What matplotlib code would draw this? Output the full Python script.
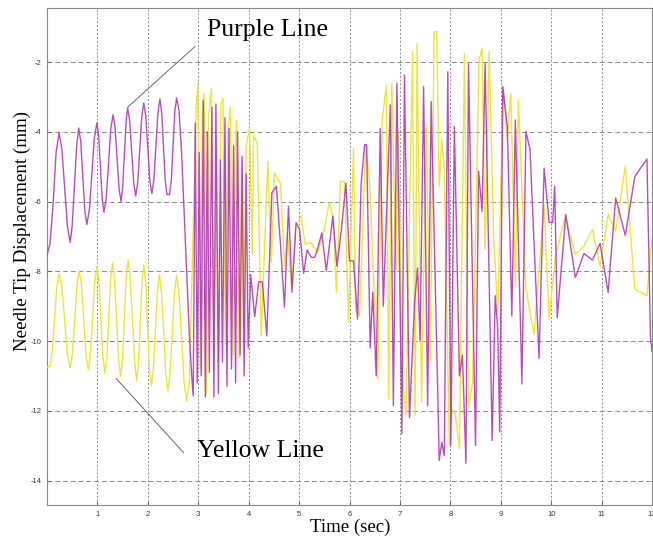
import matplotlib
matplotlib.use("Agg")
import matplotlib.pyplot as plt

# Needle tip displacement (mm) versus time (s), two needle traces
purple_t = [0.00, 0.06, 0.12, 0.18, 0.24, 0.295, 0.35, 0.405, 0.46, 0.50, 0.545, 0.59, 0.63,
            0.67, 0.71, 0.75, 0.79, 0.84, 0.89, 0.94, 0.99, 1.025, 1.06, 1.095, 1.13, 1.175,
            1.22, 1.265, 1.31, 1.35, 1.39, 1.43, 1.47, 1.50, 1.535, 1.57, 1.60, 1.64, 1.68,
            1.72, 1.76, 1.80, 1.84, 1.88, 1.92, 1.96, 2.00, 2.04, 2.08, 2.12, 2.16, 2.20,
            2.24, 2.275, 2.31, 2.345, 2.38, 2.43, 2.465, 2.50, 2.535, 2.57, 2.62, 2.67, 2.72,
            2.77, 2.82, 2.87, 2.90, 2.94, 2.98, 3.02, 3.06, 3.10, 3.14, 3.18, 3.22, 3.27,
            3.31, 3.35, 3.40, 3.44, 3.48, 3.53, 3.57, 3.61, 3.66, 3.70, 3.74, 3.78, 3.83,
            3.87, 3.91, 3.95, 3.99, 4.04, 4.12, 4.20, 4.27, 4.36, 4.46, 4.55, 4.63, 4.71,
            4.79, 4.86, 4.94, 5.01, 5.09, 5.16, 5.24, 5.31, 5.38, 5.45, 5.54, 5.67, 5.75,
            5.84, 5.93, 6.00, 6.08, 6.16, 6.23, 6.30, 6.34, 6.41, 6.46, 6.53, 6.61, 6.67,
            6.81, 6.87, 6.94, 7.04, 7.09, 7.19, 7.29, 7.35, 7.40, 7.47, 7.55, 7.62, 7.78,
            7.83, 7.88, 7.95, 8.01, 8.08, 8.18, 8.24, 8.31, 8.36, 8.50, 8.56, 8.63, 8.69,
            8.83, 8.89, 8.94, 8.98, 9.04, 9.13, 9.22, 9.29, 9.42, 9.50, 9.58, 9.76, 9.86,
            9.96, 10.03, 10.07, 10.12, 10.29, 10.48, 10.65, 10.82, 10.97, 11.13, 11.28,
            11.47, 11.66, 11.90, 11.97, 12.00]
purple_mm = [-7.55, -7.20, -6.10, -4.60, -4.03, -4.49, -5.60, -6.71, -7.17, -6.69, -5.53, -4.37,
             -3.89, -4.29, -5.28, -6.26, -6.66, -6.23, -5.20, -4.17, -3.74, -4.12, -5.03, -5.93,
             -6.31, -5.90, -4.91, -3.92, -3.51, -3.87, -4.76, -5.64, -6.00, -5.61, -4.66, -3.70,
             -3.31, -3.68, -4.58, -5.47, -5.84, -5.45, -4.51, -3.56, -3.17, -3.55, -4.47, -5.39,
             -5.77, -5.37, -4.42, -3.46, -3.06, -3.46, -4.43, -5.40, -5.80, -5.80, -5.40, -4.42,
             -3.43, -3.03, -3.40, -4.60, -6.30, -8.00, -9.70, -11.00, -11.57, -3.75, -11.2, -4.6,
             -11.0, -3.1, -11.6, -4.0, -10.9, -3.3, -11.6, -3.2, -11.5, -4.8, -10.6, -3.6, -11.3,
             -3.9, -10.8, -4.4, -11.2, -4.0, -10.4, -4.7, -11.0, -5.2, -10.2, -8.1, -9.3, -8.3,
             -8.3, -9.85, -5.75, -5.56, -7.2, -9.03, -6.13, -8.6, -6.61, -6.8, -8.06, -7.39,
             -7.6, -7.6, -7.3, -6.9, -7.99, -6.42, -7.85, -6.8, -5.47, -7.7, -7.7, -9.37, -5.5,
             -4.37, -4.37, -10.2, -8.6, -11.0, -3.9, -9.0, -3.23, -11.85, -2.61, -12.66, -2.37,
             -12.2, -8.9, -7.9, -10.0, -2.7, -11.85, -3.13, -13.42, -12.9, -13.28, -2.28, -12.99,
             -3.85, -11.0, -10.4, -13.5, -2.04, -12.99, -5.13, -6.28, -2.04, -12.85, -8.7, -9.66,
             -12.61, -2.7, -3.85, -9.28, -3.66, -11.23, -3.99, -4.51, -10.5, -5.04, -6.6, -6.6,
             -5.56, -9.33, -6.37, -8.18, -7.49, -7.68, -7.2, -8.61, -5.9, -6.97, -5.28, -4.78,
             -9.9, -10.3]

yellow_t = [0.00, 0.06, 0.105, 0.15, 0.195, 0.24, 0.295, 0.35, 0.405, 0.46, 0.505, 0.55, 0.595,
            0.64, 0.685, 0.73, 0.775, 0.82, 0.86, 0.905, 0.95, 0.99, 1.03, 1.07, 1.11, 1.15,
            1.19, 1.225, 1.26, 1.30, 1.34, 1.38, 1.42, 1.46, 1.50, 1.535, 1.57, 1.61, 1.65,
            1.695, 1.74, 1.78, 1.815, 1.85, 1.885, 1.92, 1.96, 1.995, 2.03, 2.07, 2.11, 2.15,
            2.19, 2.23, 2.27, 2.315, 2.355, 2.40, 2.44, 2.485, 2.53, 2.57, 2.62, 2.67, 2.72,
            2.77, 2.82, 2.87, 2.92, 2.96, 2.99, 3.04, 3.08, 3.12, 3.16, 3.21, 3.26, 3.31, 3.36,
            3.40, 3.45, 3.49, 3.54, 3.59, 3.64, 3.69, 3.73, 3.76, 3.81, 3.86, 3.90, 3.95, 4.02,
            4.07, 4.10, 4.17, 4.25, 4.38, 4.45, 4.51, 4.63, 4.71, 4.77, 4.85, 4.94, 5.04, 5.12,
            5.24, 5.37, 5.47, 5.60, 5.67, 5.74, 5.82, 5.90, 5.98, 6.08, 6.12, 6.20, 6.32, 6.40,
            6.56, 6.65, 6.73, 6.78, 6.84, 6.92, 6.97, 7.05, 7.12, 7.25, 7.30, 7.34, 7.43, 7.52,
            7.60, 7.68, 7.73, 7.78, 7.83, 7.88, 7.98, 8.03, 8.10, 8.18, 8.28, 8.36, 8.44, 8.57,
            8.63, 8.69, 8.77, 8.86, 8.94, 9.05, 9.13, 9.20, 9.29, 9.35, 9.50, 9.66, 9.86, 9.96,
            10.08, 10.28, 10.48, 10.65, 10.82, 10.97, 11.13, 11.28, 11.47, 11.66, 11.90, 12.00]
yellow_mm = [-10.75, -10.72, -10.33, -9.39, -8.45, -8.06, -8.46, -9.42, -10.37, -10.77, -10.36,
             -9.38, -8.40, -7.99, -8.40, -9.41, -10.41, -10.82, -10.39, -9.34, -8.28, -7.85,
             -8.30, -9.39, -10.47, -10.92, -10.46, -9.34, -8.21, -7.75, -8.23, -9.38, -10.53,
             -11.01, -10.52, -9.35, -8.17, -7.68, -8.18, -9.41, -10.63, -11.13, -10.64, -9.47,
             -8.29, -7.80, -8.31, -9.54, -10.77, -11.28, -10.81, -9.69, -8.56, -8.09, -8.58,
             -9.76, -10.93, -11.42, -10.94, -9.77, -8.59, -8.11, -8.64, -9.92, -11.19, -11.72,
             -11.20, -8.50, -5.50, -3.30, -2.60, -10.8, -3.4, -2.9, -11.5, -3.5, -2.75, -10.9,
             -4.5, -10.6, -3.2, -3.04, -10.1, -4.0, -3.28, -10.4, -4.5, -3.66, -10.5, -5.0, -9.6,
             -4.4, -3.9, -7.5, -4.1, -4.32, -9.85, -4.85, -7.75, -5.18, -5.47, -7.85, -6.9,
             -8.42, -6.66, -6.42, -7.23, -7.18, -7.47, -6.99, -6.04, -6.42, -8.61, -5.42, -5.42,
             -9.47, -4.47, -9.1, -9.28, -4.4, -5.47, -11.1, -3.66, -2.66, -11.66, -2.61, -8.0,
             -4.0, -11.0, -12.13, -1.7, -12.13, -1.47, -11.75, -3.75, -10.6, -1.13, -1.13, -5.56,
             -4.23, -5.09, -12.99, -11.94, -12.1, -13.09, -1.75, -11.9, -11.2, -1.94, -1.61,
             -7.37, -1.7, -7.0, -9.2, -2.8, -4.2, -2.9, -8.42, -3.1, -8.51, -9.8, -6.09, -9.37,
             -7.64, -6.42, -7.51, -7.28, -6.8, -7.85, -6.37, -6.84, -4.99, -8.51, -8.7, -6.99]

x_ticks = list(range(1, 13))
y_ticks = [-2, -4, -6, -8, -10, -12, -14]

W, H = 653, 545
fig = plt.figure(figsize=(W / 100, H / 100), dpi=100)
ax = fig.add_axes([47 / W, 1 - 505 / H, 605 / W, 497 / H])

ax.plot(yellow_t, yellow_mm, color="#EDE53A", lw=1.0, zorder=3)
ax.plot(purple_t, purple_mm, color="#B03AB4", lw=1.0, alpha=0.9, zorder=4)

ax.set_xlim(0, 12)
ax.set_ylim(-14.7, -0.45)
ax.set_xticks(x_ticks)
ax.set_yticks(y_ticks)
ax.set_xticklabels([str(v) for v in x_ticks])
ax.set_yticklabels([str(v) for v in y_ticks])
ax.tick_params(direction="in", length=3, width=0.6, color="#555555",
               labelsize=5.5, labelcolor="#333333", pad=4)
for lab in ax.get_xticklabels() + ax.get_yticklabels():
    lab.set_family("Liberation Sans")

ax.xaxis.grid(True, color="#8a8a8a", lw=0.7, linestyle=(0, (2, 2)))
ax.yaxis.grid(True, color="#8a8a8a", lw=0.7, linestyle=(0, (5, 3)))
ax.set_axisbelow(True)
for sp in ax.spines.values():
    sp.set_color("#888888")
    sp.set_linewidth(0.8)

serif = "Liberation Serif"
fig.text(350 / W, 1 - 527 / H, "Time (sec)", family=serif, fontsize=13.5,
         ha="center", va="center")
fig.text(22 / W, 1 - 231 / H, "Needle Tip Displacement (mm)", family=serif,
         fontsize=13.7, rotation=90, ha="center", va="center")

# Callouts naming each trace
ax.plot([2.93, 1.61], [-1.56, -3.28], color="#666666", lw=0.7, zorder=5)
ax.plot([1.37, 2.71], [-11.07, -13.20], color="#666666", lw=0.7, zorder=5)
ax.text(3.17, -1.09, "Purple Line", family=serif, fontsize=18.5, va="center", ha="left", zorder=6)
ax.text(2.97, -13.14, "Yellow Line", family=serif, fontsize=18.5, va="center", ha="left", zorder=6)

fig.savefig("out.png", dpi=100)
